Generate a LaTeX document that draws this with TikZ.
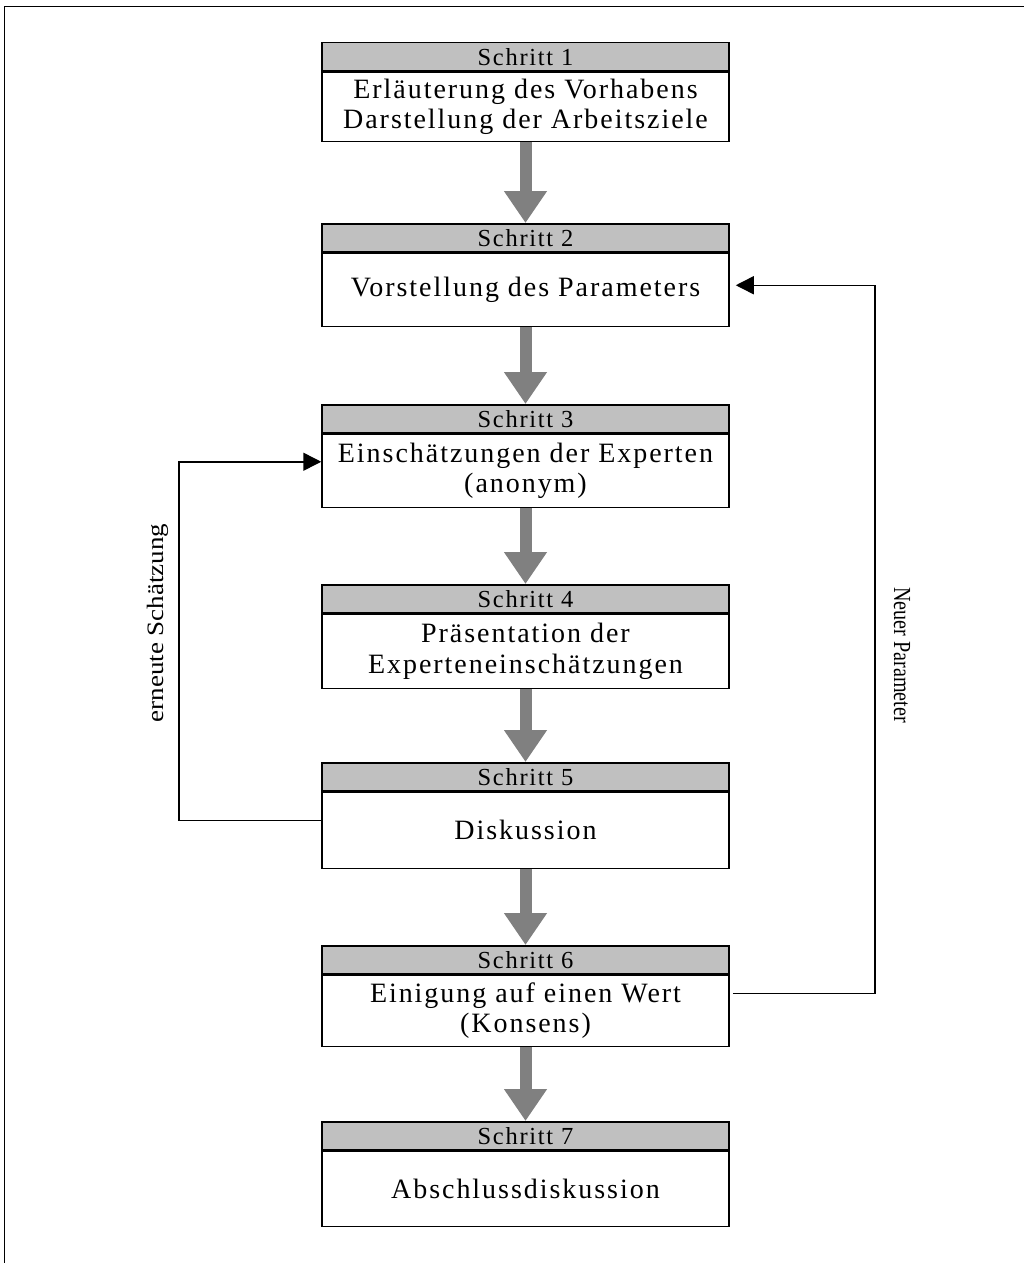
\documentclass[tikz,border=0pt]{standalone}
\usepackage{fontspec}
\setmainfont{Liberation Serif}[LetterSpace=7]
\newfontfamily\labelfont{Liberation Serif}
\usetikzlibrary{arrows.meta,calc}
\definecolor{hdrgray}{RGB}{192,192,192}
\definecolor{arrgray}{RGB}{128,128,128}
\tikzset{
  hdr/.style={draw=black, line width=1.5pt, fill=hdrgray, minimum width=407pt, minimum height=28pt,
    inner sep=0pt, anchor=north, font=\fontsize{24.5}{28}\selectfont},
  body/.style={draw=black, line width=1.5pt, fill=white, minimum width=407pt, inner sep=0pt,
    anchor=north, align=center, font=\fontsize{28}{30.5}\selectfont},
  fatarrow/.style={draw=arrgray, line width=12pt, -{Triangle[length=32pt,width=41pt,fill=arrgray]}},
  looparrow/.style={draw=black, line width=1.5pt, -{Triangle[length=18pt,width=18pt]}},
  sidelabel/.style={inner sep=0pt, font=\labelfont\fontsize{23.5}{26}\selectfont}
}
\begin{document}
\begin{tikzpicture}[x=1pt,y=-1pt]
\useasboundingbox (0,0) rectangle (1024,1263);
% frame
\draw[line width=1pt] (4,1263) -- (4,7) -- (1024,7);
% steps
\node[hdr] (h1) at (525.5,42) {Schritt 1};
\node[body, minimum height=69pt] (b1) at (h1.south) {Erläuterung des Vorhabens\\Darstellung der Arbeitsziele};
\node[hdr] (h2) at (525.5,223) {Schritt 2};
\node[body, minimum height=73pt] (b2) at (h2.south) {Vorstellung des Parameters};
\node[hdr] (h3) at (525.5,404) {Schritt 3};
\node[body, minimum height=73pt] (b3) at (h3.south) {Einschätzungen der Experten\\(anonym)};
\node[hdr] (h4) at (525.5,584) {Schritt 4};
\node[body, minimum height=74pt] (b4) at (h4.south) {Präsentation der\\Experteneinschätzungen};
\node[hdr] (h5) at (525.5,762) {Schritt 5};
\node[body, minimum height=76pt] (b5) at (h5.south) {Diskussion};
\node[hdr] (h6) at (525.5,945) {Schritt 6};
\node[body, minimum height=71pt] (b6) at (h6.south) {Einigung auf einen Wert\\(Konsens)};
\node[hdr] (h7) at (525.5,1121) {Schritt 7};
\node[body, minimum height=75pt] (b7) at (h7.south) {Abschlussdiskussion};
% main flow arrows
\draw[fatarrow] (b1.south) -- (h2.north);
\draw[fatarrow] (b2.south) -- (h3.north);
\draw[fatarrow] (b3.south) -- (h4.north);
\draw[fatarrow] (b4.south) -- (h5.north);
\draw[fatarrow] (b5.south) -- (h6.north);
\draw[fatarrow] (b6.south) -- (h7.north);
% left loop
\coordinate (lx) at (179,0);
\coordinate (lstart) at ([yshift=10pt]b5.west);
\coordinate (lend) at ([yshift=9pt]b3.west);
\draw[looparrow] (lstart) -- (lstart -| lx) -- (lend -| lx) -- (lend);
% right loop
\coordinate (rx) at (875,0);
\coordinate (rstart) at ([xshift=3pt,yshift=17.5pt]b6.east);
\coordinate (rend) at ([xshift=6pt,yshift=4.5pt]b2.east);
\draw[looparrow] (rstart) -- (rstart -| rx) -- (rend -| rx) -- (rend);
% side labels
\node[sidelabel, rotate=90] (lbl1) at (158,623) {\scalebox{1.15}[1]{erneute Schätzung}};
\node[sidelabel, rotate=-90] (lbl2) at (902,655) {\fontsize{24.5}{28}\selectfont\scalebox{0.82}[1]{Neuer Parameter}};
\end{tikzpicture}
\end{document}
